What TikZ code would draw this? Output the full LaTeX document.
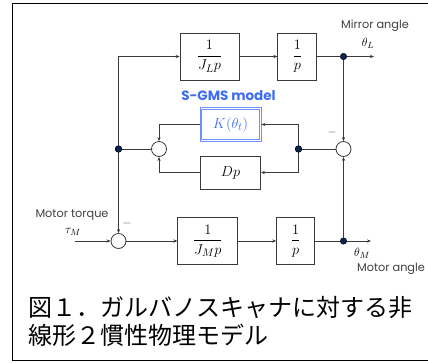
\documentclass[tikz,border=0pt]{standalone}
\usepackage{amsmath,amssymb}
\usepackage{fontspec}
\setsansfont{Poppins}
\newfontfamily\jpfont{Noto Sans CJK JP}
\usepackage{xcolor}
\usetikzlibrary{positioning, arrows.meta, calc}
\definecolor{linegray}{HTML}{3A3A3A}
\definecolor{dotnavy}{HTML}{0B2450}
\definecolor{gmsblue}{HTML}{3F6DF2}
\definecolor{kblue}{HTML}{6F8FFF}

\begin{document}
\begin{tikzpicture}[
    x=1pt, y=-1pt,
    block/.style={rectangle, draw=linegray, fill=white, thick,
                  minimum height=47pt, align=center, inner sep=1pt,
                  font=\fontsize{15}{17}\selectfont},
    kblock/.style={rectangle, draw=kblue, fill=white, thick,
                   minimum width=61pt, minimum height=34pt, text=gmsblue,
                   font=\fontsize{15}{17}\selectfont},
    sumnode/.style={circle, draw=linegray, fill=white, thick,
                    minimum size=15pt, inner sep=0pt},
    dot/.style={circle, draw=black, fill=dotnavy, minimum size=6.5pt,
                inner sep=0pt},
    lbl/.style={font=\sffamily\fontsize{11.3}{13}\selectfont, text=black!75,
                inner sep=0pt},
    sym/.style={font=\fontsize{13}{15}\selectfont, inner sep=0pt},
    arr/.style={-{Stealth[length=4pt, width=3.2pt]}, thick, linegray},
    wire/.style={thick, linegray}
]
    \useasboundingbox (0,0) rectangle (428,362);

    % Frame
    \draw[line width=1.5pt] (428,3.5) -- (12.5,3.5) -- (12.5,360.5) -- (428,360.5);

    % Motor path
    \node[sumnode] (sm) at (118.5,241) {};
    \node[block, minimum width=60pt, right=51pt of sm] (jm) {$\dfrac{1}{J_M p}$};
    \node[block, minimum width=38pt, right=38pt of jm] (pm) {$\dfrac{1}{p}$};
    \node[dot] (dm) at (343.5,241) {};
    \coordinate (om) at (371,241);
    \coordinate (tin) at (75,241);

    % Mirror path
    \node[block, minimum width=59pt] (jl) at (209.5,56.5) {$\dfrac{1}{J_L p}$};
    \node[block, minimum width=39pt, right=38pt of jl] (pl) {$\dfrac{1}{p}$};
    \node[dot] (dl) at (dm |- pl) {};
    \coordinate (ol) at (374,56.5);

    % Spring and damper
    \node[sumnode] (sr) at (343.5,149) {};
    \node[dot] (dr) at (298.5,149) {};
    \node[sumnode] (sl) at (159,149) {};
    \node[dot] (dj) at (118.5,149) {};
    \node[kblock] (kb) at (230.5,124.5) {$K(\theta_t)$};
    \draw[kblue, thick] ($(kb.south west)+(2.2,-2.2)$) rectangle ($(kb.north east)+(-2.2,2.2)$);
    \node[block, minimum width=60pt, minimum height=33pt] (dp) at (230.5,172.5) {$Dp$};
    \node[font=\sffamily\bfseries\fontsize{13.5}{15}\selectfont, text=gmsblue,
          inner sep=0pt] (gms) at (228.5,96) {S-GMS model};

    % Arrows motor path
    \draw[arr] (tin) -- (sm);
    \draw[arr] (sm) -- (jm);
    \draw[arr] (jm) -- (pm);
    \draw[wire] (pm) -- (dm);
    \draw[arr] (dm) -- (om);

    % Arrows mirror path
    \draw[arr] (dj.center) |- (jl.west);
    \draw[arr] (dj.center) -- (sm.north);
    \draw[arr] (jl) -- (pl);
    \draw[wire] (pl) -- (dl);
    \draw[arr] (dl) -- (ol);

    % Feedback
    \draw[arr] (dl) -- (sr);
    \draw[arr] (dm) -- (sr);
    \draw[wire] (sr) -- (dr);
    \draw[arr] (dr.center) |- (kb.east);
    \draw[arr] (dr.center) |- (dp.east);
    \draw[arr] (kb.west) -| (sl.north);
    \draw[arr] (dp.west) -| (sl.south);
    \draw[wire] (sl) -- (dj);
    \node[dot] at (dr) {};
    \node[dot] at (dj) {};

    % Labels
    \node[lbl] (mirrorlbl) at (375,26) {Mirror angle};
    \node[sym] (thl) at (368,43) {$\theta_L$};
    \node[lbl] (torquelbl) at (72,215) {Motor torque};
    \node[sym] (tau) at (73,232) {$\tau_M$};
    \node[sym] (thm) at (362,253) {$\theta_M$};
    \node[lbl] (motorlbl) at (391,269) {Motor angle};
    \node[sym, text=black!70] (minr) at (332,132) {$-$};
    \node[sym, text=black!70] (minm) at (127,223) {$-$};

    % Caption
    \node[font=\jpfont\fontsize{24}{27.5}\selectfont, align=left, anchor=west,
          inner sep=0pt] (cap) at (28.5,321.5)
          {図１．ガルバノスキャナに対する非\\線形２慣性物理モデル};
\end{tikzpicture}
\end{document}
